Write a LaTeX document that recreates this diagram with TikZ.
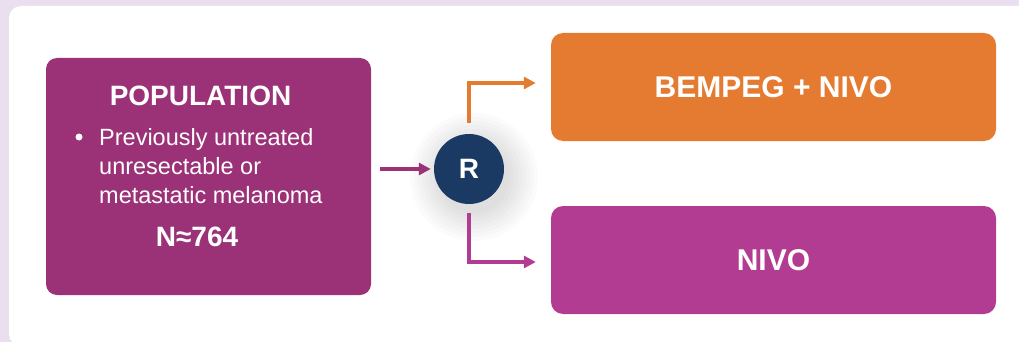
\documentclass[tikz,border=0pt]{standalone}
\usepackage{fontspec}
\setmainfont{Liberation Sans}
\usetikzlibrary{arrows.meta}

\definecolor{bglilac}{HTML}{E9DFEE}
\definecolor{popcol}{HTML}{9B3176}
\definecolor{bempcol}{HTML}{E47B31}
\definecolor{nivocol}{HTML}{B23C92}
\definecolor{rcol}{HTML}{1B3A63}

\begin{document}
\begin{tikzpicture}
  [x=1pt,y=1pt,
   popbox/.style={fill=popcol,rounded corners=11pt,minimum width=325pt,minimum height=237pt},
   armbox/.style={rounded corners=12pt,minimum width=445pt,minimum height=108pt,
     text=white,font=\fontsize{30}{32}\selectfont\bfseries},
   lbl/.style={text=white,inner sep=0pt},
   arr/.style={line width=3.2pt,-{Triangle[length=12pt,width=12pt]}}]

  \useasboundingbox (0,0) rectangle (1019,-342);
  \fill[bglilac] (0,0) rectangle (1019,-342);
  \fill[white,rounded corners=12pt] (9,-6) rectangle (1040,-346);

  % soft shadow behind R
  \foreach \r in {36,40,...,66}
    \fill[black,opacity=0.016] (474,-177) circle (\r);

  \node[popbox] (pop) at (208.5,-176.5) {};
  \node[lbl,font=\fontsize{28}{30}\selectfont\bfseries] (poptitle) at (200.5,-96) {POPULATION};
  \fill[white] (79,-137) circle (3.5);
  \node[lbl,anchor=base west,align=left,font=\fontsize{23.5}{29}\selectfont] (popdesc) at (99,-203)
    {Previously untreated\\unresectable or\\metastatic melanoma};
  \node[lbl,anchor=base,font=\fontsize{28}{30}\selectfont\bfseries] (popn) at (197,-246) {N≈764};

  \node[circle,fill=rcol,minimum size=70pt,text=white,font=\fontsize{28}{30}\selectfont\bfseries] (R) at (469,-169) {R};

  \node[armbox,fill=bempcol] (bemp) at (773.5,-87) {BEMPEG + NIVO};
  \node[armbox,fill=nivocol] (nivo) at (773.5,-260) {NIVO};

  \draw[arr,popcol] ([xshift=9pt]R.west -| pop.east) -- ([xshift=-3pt]R.west);
  \draw[arr,bempcol] ([yshift=11pt]R.north) |- ([xshift=-15pt,yshift=4pt]bemp.west);
  \draw[arr,nivocol] ([yshift=-9pt]R.south) |- ([xshift=-15pt,yshift=-2pt]nivo.west);

\end{tikzpicture}
\end{document}
